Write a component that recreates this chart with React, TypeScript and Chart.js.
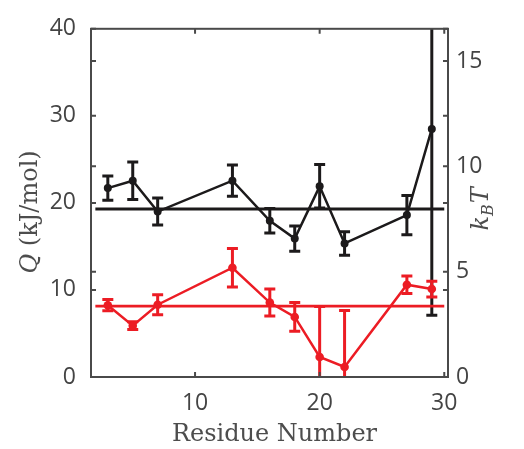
import React, { useEffect, useRef } from "react";
import { Chart, registerables } from "chart.js";

Chart.register(...registerables);

// ---- data ----
const residues = [3, 5, 7, 13, 16, 18, 20, 22, 27, 29];
const blackQ = [21.7, 22.55, 19.0, 22.55, 17.95, 15.9, 21.9, 15.35, 18.6, 28.5];
const blackErr = [1.4, 2.15, 1.55, 1.8, 1.4, 1.45, 2.5, 1.35, 2.25, 21.4];
const redQ = [8.25, 5.9, 8.3, 12.55, 8.55, 6.9, 2.3, 1.15, 10.6, 10.1];
const redErr = [0.65, 0.45, 1.15, 2.2, 1.55, 1.65, 5.8, 6.5, 1.0, 0.9];
const blackRef = 19.3;
const redRef = 8.15;
const refSpan = [2, 30];
const leftTicks = [0, 10, 20, 30, 40];
const rightTicks = [0, 5, 10, 15];
const xTicks = [10, 20, 30];
const kBT = 2.42; // kJ/mol

const AXIS = "#4a4a4a";
const TEXT = "#444444";
const BLACK = "#1c1a1b";
const RED = "#ec1c24";
const TICK_FONT = { family: "'Open Sans', sans-serif", size: 23 };

const errorBarPlugin = {
  id: "errorBars",
  beforeDatasetsDraw(chart: any) {
    const { ctx, chartArea: a, scales } = chart;
    ctx.save();
    ctx.beginPath();
    ctx.rect(a.left, a.top, a.width, a.height);
    ctx.clip();
    const draw = (vals: number[], errs: number[], color: string) => {
      ctx.strokeStyle = color;
      ctx.lineWidth = 3;
      ctx.lineCap = "butt";
      residues.forEach((r, i) => {
        const x = scales.x.getPixelForValue(r);
        const yt = scales.y.getPixelForValue(vals[i] + errs[i]);
        const yb = scales.y.getPixelForValue(vals[i] - errs[i]);
        ctx.beginPath();
        ctx.moveTo(x, yt);
        ctx.lineTo(x, yb);
        ctx.moveTo(x - 5.5, yt);
        ctx.lineTo(x + 5.5, yt);
        ctx.moveTo(x - 5.5, yb);
        ctx.lineTo(x + 5.5, yb);
        ctx.stroke();
      });
    };
    draw(blackQ, blackErr, BLACK);
    draw(redQ, redErr, RED);
    ctx.restore();
  },
};

const boxPlugin = {
  id: "boxTicks",
  afterDraw(chart: any) {
    const { ctx, chartArea: a, scales } = chart;
    ctx.save();
    ctx.strokeStyle = AXIS;
    ctx.lineWidth = 2;
    const tl = 5;
    ctx.beginPath();
    leftTicks.forEach((v) => {
      const y = scales.y.getPixelForValue(v);
      ctx.moveTo(a.left, y);
      ctx.lineTo(a.left + tl, y);
      ctx.moveTo(a.right, y);
      ctx.lineTo(a.right - tl, y);
    });
    rightTicks.forEach((v) => {
      const y = scales.y1.getPixelForValue(v);
      ctx.moveTo(a.left, y);
      ctx.lineTo(a.left + tl, y);
      ctx.moveTo(a.right, y);
      ctx.lineTo(a.right - tl, y);
    });
    xTicks.forEach((v) => {
      const x = scales.x.getPixelForValue(v);
      ctx.moveTo(x, a.bottom);
      ctx.lineTo(x, a.bottom - tl);
      ctx.moveTo(x, a.top);
      ctx.lineTo(x, a.top + tl);
    });
    ctx.stroke();
    ctx.strokeRect(a.left, a.top, a.right - a.left, a.bottom - a.top);

    // titles
    ctx.fillStyle = "#4d4d4d";
    ctx.textBaseline = "alphabetic";
    const serif = "'DejaVu Serif', serif";
    // x title
    ctx.font = `24px ${serif}`;
    ctx.textAlign = "center";
    ctx.fillText("Residue Number", (a.left + a.right) / 2 + 5, 441);

    // left title: Q (kJ/mol)
    ctx.textAlign = "left";
    const cy = (a.top + a.bottom) / 2;
    ctx.save();
    ctx.translate(37, cy + 9);
    ctx.rotate(-Math.PI / 2);
    const fQ = `italic 24px ${serif}`;
    const fR = `24px ${serif}`;
    ctx.font = fQ;
    const wQ = ctx.measureText("Q").width;
    ctx.font = fR;
    const wR = ctx.measureText(" (kJ/mol)").width;
    let x0 = -(wQ + wR) / 2;
    ctx.font = fQ;
    ctx.fillText("Q", x0, 0);
    ctx.font = fR;
    ctx.fillText(" (kJ/mol)", x0 + wQ, 0);
    ctx.restore();

    // right title: k_B T
    ctx.save();
    ctx.translate(488, cy + 6);
    ctx.rotate(-Math.PI / 2);
    const fI = `italic 24px ${serif}`;
    const fS = `italic 16px ${serif}`;
    ctx.font = fI;
    const wk = ctx.measureText("k").width;
    const wT = ctx.measureText("T").width;
    ctx.font = fS;
    const wB = ctx.measureText("B").width;
    let x1 = -(wk + wB + wT + 1) / 2;
    ctx.font = fI;
    ctx.fillText("k", x1, 0);
    ctx.font = fS;
    ctx.fillText("B", x1 + wk, 5);
    ctx.font = fI;
    ctx.fillText("T", x1 + wk + wB + 1, 0);
    ctx.restore();

    ctx.restore();
  },
};

export default function App() {
  const ref = useRef<HTMLCanvasElement>(null);

  useEffect(() => {
    const canvas = ref.current;
    if (!canvas) return;
    const pts = (ys: number[]) => residues.map((x, i) => ({ x, y: ys[i] }));
    const chart = new Chart(canvas, {
      type: "line",
      data: {
        datasets: [
          {
            label: "Q",
            data: pts(blackQ),
            borderColor: BLACK,
            backgroundColor: BLACK,
            borderWidth: 2.5,
            pointRadius: 4,
            pointBorderWidth: 0,
            yAxisID: "y",
          },
          {
            label: "Q red",
            data: pts(redQ),
            borderColor: RED,
            backgroundColor: RED,
            borderWidth: 2.5,
            pointRadius: 4.3,
            pointBorderWidth: 0,
            yAxisID: "y",
          },
          {
            label: "mean black",
            data: refSpan.map((x) => ({ x, y: blackRef })),
            borderColor: BLACK,
            borderWidth: 2.8,
            pointRadius: 0,
            yAxisID: "y",
          },
          {
            label: "mean red",
            data: refSpan.map((x) => ({ x, y: redRef })),
            borderColor: RED,
            borderWidth: 2.8,
            pointRadius: 0,
            yAxisID: "y",
          },
        ],
      },
      options: {
        responsive: false,
        animation: false,
        events: [],
        layout: { padding: { top: 20, left: 0, right: 0, bottom: 0 } },
        plugins: { legend: { display: false }, tooltip: { enabled: false } },
        scales: {
          x: {
            type: "linear",
            min: 1.65,
            max: 30.3,
            afterBuildTicks: (s: any) => {
              s.ticks = xTicks.map((v) => ({ value: v }));
            },
            afterFit: (s: any) => {
              s.height = 72;
            },
            grid: { display: false, drawTicks: false },
            border: { display: false },
            ticks: { font: TICK_FONT, color: TEXT, padding: 13, maxRotation: 0 },
          },
          y: {
            type: "linear",
            position: "left",
            min: 0,
            max: 40,
            afterBuildTicks: (s: any) => {
              s.ticks = leftTicks.map((v) => ({ value: v }));
            },
            afterFit: (s: any) => {
              s.width = 91;
            },
            grid: { display: false, drawTicks: false },
            border: { display: false },
            ticks: { font: TICK_FONT, color: TEXT, padding: 15 },
          },
          y1: {
            type: "linear",
            position: "right",
            min: 0,
            max: 40 / kBT,
            afterBuildTicks: (s: any) => {
              s.ticks = rightTicks.map((v) => ({ value: v }));
            },
            afterFit: (s: any) => {
              s.width = 76;
            },
            grid: { display: false, drawTicks: false },
            border: { display: false },
            ticks: { font: TICK_FONT, color: TEXT, padding: 8 },
          },
        },
      },
      plugins: [errorBarPlugin, boxPlugin],
    } as any);
    return () => chart.destroy();
  }, []);

  return (
    <div style={{ position: "absolute", left: 0, top: 0, width: 524, height: 449 }}>
      <canvas ref={ref} width={524} height={449} style={{ width: 524, height: 449, display: "block" }} />
    </div>
  );
}
